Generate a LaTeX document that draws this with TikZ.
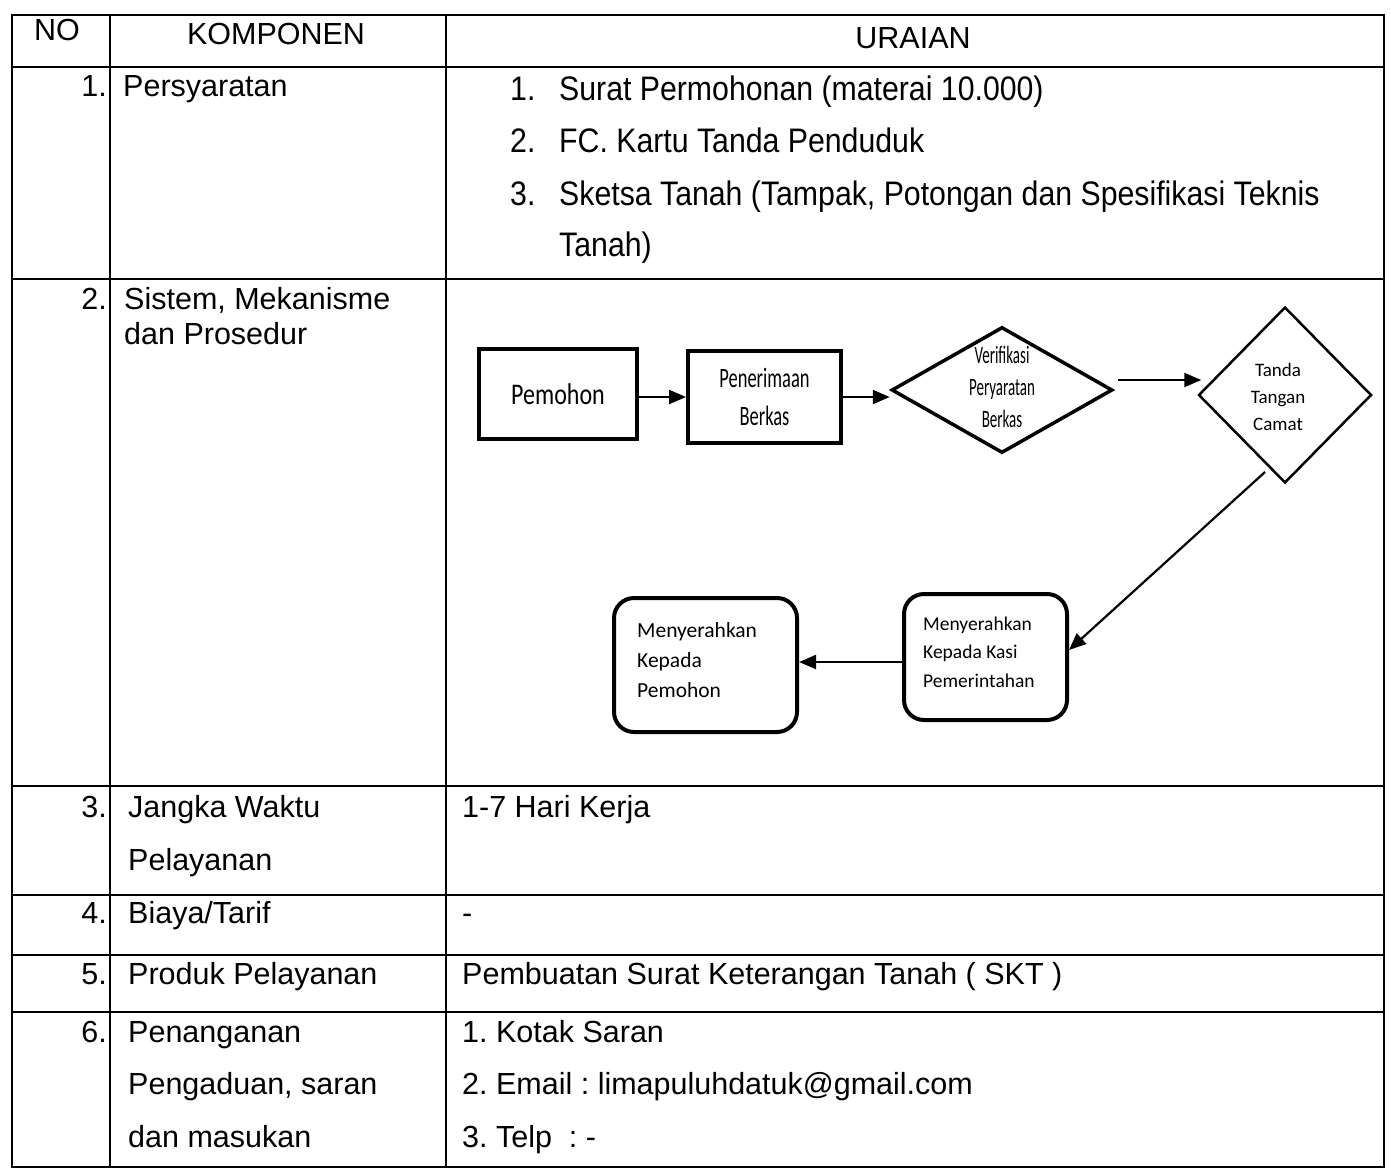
\documentclass[tikz,border=0pt]{standalone}
\usepackage{fontspec}
\setmainfont{Liberation Sans}
\newfontfamily\narrowsans[FakeStretch=0.89]{Liberation Sans}
\newfontfamily\flowfont{Carlito}
\newfontfamily\flowwide[FakeStretch=0.8]{Carlito}
\newfontfamily\flowcond[FakeStretch=0.66]{Carlito}
\newfontfamily\flowtight[FakeStretch=0.6]{Carlito}
\usetikzlibrary{shapes.geometric,arrows.meta}

\begin{document}
\frenchspacing
\begin{tikzpicture}[x=1pt,y=-1pt,
  grid/.style={line width=2.2pt, line cap=rect},
  cell/.style={inner sep=0pt, font=\fontsize{30.5}{36}\selectfont},
  txt/.style={cell, anchor=base west},
  num/.style={cell, anchor=base east},
  head/.style={cell, anchor=base},
  listtxt/.style={inner sep=0pt, anchor=base west, font=\narrowsans\fontsize{34}{40}\selectfont},
  rectbox/.style={draw, line width=4pt, inner sep=0pt},
  roundbox/.style={draw, line width=4pt, rounded corners=20pt, inner sep=0pt},
  decision/.style={draw, diamond, inner sep=0pt},
  boxtext/.style={inner sep=0pt, anchor=west, align=left},
  arr/.style={line width=2.2pt, -{Triangle[length=17pt,width=14pt]}}
]
\useasboundingbox (0,0) rectangle (1391,1170);
\fill[white] (0,0) rectangle (1391,1170);

% table rules
\foreach \y in {15,67,279,786,895,955,1012,1167}
  \draw[grid] (12,\y) -- (1384,\y);
\foreach \x in {12,110,446,1384}
  \draw[grid] (\x,15) -- (\x,1167);

% header
\node[head] (hno)   at (57,40)  {NO};
\node[head] (hkomp) at (276,44) {KOMPONEN};
\node[head] (hurai) at (913,48) {URAIAN};

% row 1
\node[num] (n1) at (107,96) {1.};
\node[txt] (k1) at (123,96) {Persyaratan};
\node[listtxt] (l1n) at (510,100) {1.};
\node[listtxt] (l1)  at (559,100) {Surat Permohonan (materai 10.000)};
\node[listtxt] (l2n) at (510,152) {2.};
\node[listtxt] (l2)  at (559,152) {FC. Kartu Tanda Penduduk};
\node[listtxt] (l3n) at (510,205) {3.};
\node[listtxt] (l3)  at (559,205) {Sketsa Tanah (Tampak, Potongan dan Spesifikasi Teknis};
\node[listtxt] (l3b) at (559,256) {Tanah)};

% row 2
\node[num] (n2) at (107,309) {2.};
\node[txt] (k2a) at (124,309) {Sistem, Mekanisme};
\node[txt] (k2b) at (124,344) {dan Prosedur};

% row 3
\node[num] (n3) at (107,817) {3.};
\node[txt] (k3a) at (128,817) {Jangka Waktu};
\node[txt] (k3b) at (128,870) {Pelayanan};
\node[txt] (u3)  at (462,817) {1-7 Hari Kerja};

% row 4
\node[num] (n4) at (107,923) {4.};
\node[txt] (k4) at (128,923) {Biaya/Tarif};
\node[txt] (u4) at (462,923) {-};

% row 5
\node[num] (n5) at (107,984) {5.};
\node[txt] (k5) at (128,984) {Produk Pelayanan};
\node[txt] (u5) at (462,984) {Pembuatan Surat Keterangan Tanah ( SKT )};

% row 6
\node[num] (n6) at (107,1042) {6.};
\node[txt] (k6a) at (128,1042) {Penanganan};
\node[txt] (k6b) at (128,1094) {Pengaduan, saran};
\node[txt] (k6c) at (128,1147) {dan masukan};
\node[txt] (u6a) at (462,1042) {1. Kotak Saran};
\node[txt] (u6b) at (462,1094) {2. Email : limapuluhdatuk@gmail.com};
\node[txt] (u6c) at (462,1147) {3. Telp\ \ : -};

% flowchart
\node[rectbox, minimum width=158pt, minimum height=90pt,
      font=\flowwide\fontsize{30}{36}\selectfont] (pemohon) at (558,394) {Pemohon};
\draw[line width=3pt] ([yshift=-1.5pt]pemohon.north west) -- ([yshift=-1.5pt]pemohon.north east);
\node[rectbox, minimum width=153pt, minimum height=92pt, align=center,
      font=\flowcond\fontsize{28}{38}\selectfont] (terima) at (764.5,397) {Penerimaan\\Berkas};
\draw[line width=3pt] ([yshift=-1.5pt]terima.north west) -- ([yshift=-1.5pt]terima.north east);

\node[decision, line width=3.5pt, minimum width=221pt, minimum height=126pt] (verif) at (1002,390) {};
\node[inner sep=0pt, align=center, font=\flowtight\fontsize{25}{32}\selectfont] (veriftext) at (1002,387)
  {Verifikasi\\Peryaratan\\Berkas};

\node[decision, line width=2.5pt, minimum width=173pt, minimum height=176pt] (camat) at (1285,395) {};
\node[inner sep=0pt, align=center, font=\flowfont\fontsize{19}{27}\selectfont] (camattext) at (1278,397)
  {Tanda\\Tangan\\Camat};

\node[roundbox, minimum width=163pt, minimum height=126pt] (kasi) at (985.5,657) {};
\node[boxtext, font=\flowfont\fontsize{19.5}{28.5}\selectfont] (kasitext) at (923,652)
  {Menyerahkan\\Kepada Kasi\\Pemerintahan};

\node[roundbox, minimum width=183pt, minimum height=134pt] (akhir) at (705.5,665) {};
\node[boxtext, font=\flowfont\fontsize{21.5}{30}\selectfont] (akhirtext) at (637,660)
  {Menyerahkan\\Kepada\\Pemohon};

\coordinate (camatout) at (1265,472);

\draw[arr] (pemohon.east |- terima.west) -- (terima.west);
\draw[arr] (terima.east) -- (terima.east -| verif.west);
\draw[arr] ([xshift=4pt,yshift=10pt]verif.east) -- ([xshift=4pt,yshift=10pt]verif.east -| camat.west);
\draw[arr] (camatout) -- ([yshift=7pt]kasi.east);
\draw[arr] ([yshift=-5pt]kasi.west) -- ([yshift=-5pt]kasi.west -| akhir.east);
\end{tikzpicture}
\end{document}
